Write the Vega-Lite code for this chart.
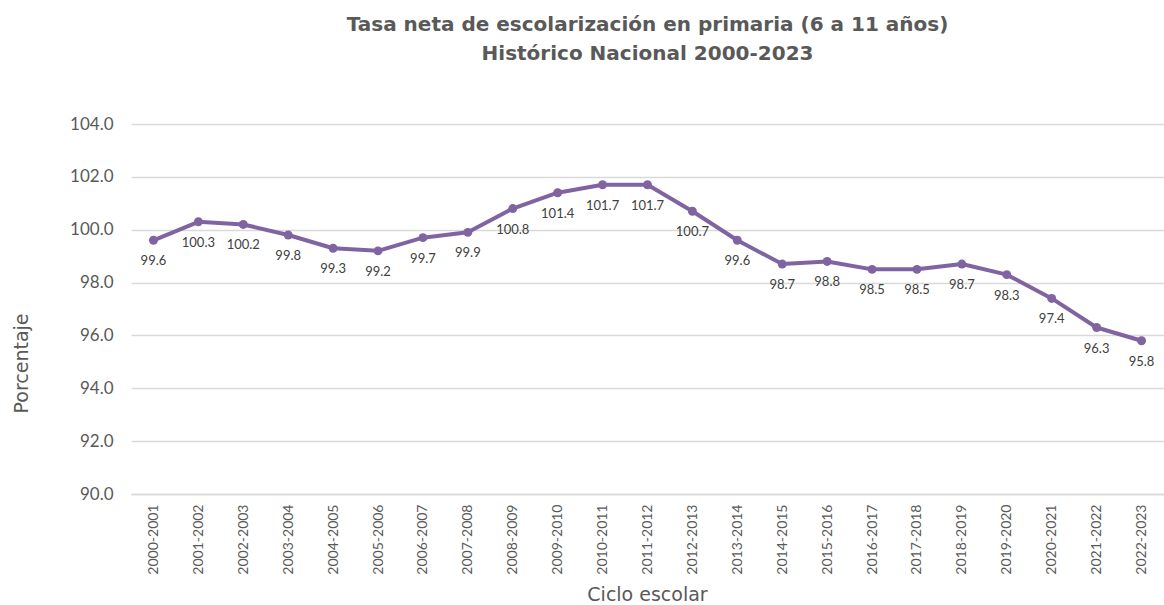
{
  "$schema": "https://vega.github.io/schema/vega-lite/v6.json",
  "autosize": {"type": "none"},
  "padding": {"left": 131, "top": 124, "right": 0, "bottom": 111},
  "width": 1033,
  "height": 370,
  "background": "white",
  "title": {
    "text": ["Tasa neta de escolarización en primaria (6 a 11 años)", "Histórico Nacional 2000-2023"],
    "font": "DejaVu Sans",
    "fontSize": 20,
    "fontWeight": "bold",
    "color": "#595959",
    "anchor": "middle",
    "lineHeight": 29,
    "offset": 51
  },
  "config": {
    "view": {"stroke": null},
    "font": "Lato"
  },
  "data": {
    "values": [
      {"ciclo": "2000-2001", "valor": 99.6},
      {"ciclo": "2001-2002", "valor": 100.3},
      {"ciclo": "2002-2003", "valor": 100.2},
      {"ciclo": "2003-2004", "valor": 99.8},
      {"ciclo": "2004-2005", "valor": 99.3},
      {"ciclo": "2005-2006", "valor": 99.2},
      {"ciclo": "2006-2007", "valor": 99.7},
      {"ciclo": "2007-2008", "valor": 99.9},
      {"ciclo": "2008-2009", "valor": 100.8},
      {"ciclo": "2009-2010", "valor": 101.4},
      {"ciclo": "2010-2011", "valor": 101.7},
      {"ciclo": "2011-2012", "valor": 101.7},
      {"ciclo": "2012-2013", "valor": 100.7},
      {"ciclo": "2013-2014", "valor": 99.6},
      {"ciclo": "2014-2015", "valor": 98.7},
      {"ciclo": "2015-2016", "valor": 98.8},
      {"ciclo": "2016-2017", "valor": 98.5},
      {"ciclo": "2017-2018", "valor": 98.5},
      {"ciclo": "2018-2019", "valor": 98.7},
      {"ciclo": "2019-2020", "valor": 98.3},
      {"ciclo": "2020-2021", "valor": 97.4},
      {"ciclo": "2021-2022", "valor": 96.3},
      {"ciclo": "2022-2023", "valor": 95.8}
    ]
  },
  "encoding": {
    "x": {
      "field": "ciclo",
      "type": "ordinal",
      "sort": null,
      "scale": {"paddingInner": 0, "paddingOuter": 0.5},
      "axis": {
        "title": "Ciclo escolar",
        "titleFont": "DejaVu Sans",
        "titleFontSize": 19,
        "titleFontWeight": "normal",
        "titleColor": "#595959",
        "titleX": 516,
        "titleY": 100,
        "titleBaseline": "middle",
        "titleAlign": "center",
        "labelAngle": -90,
        "labelAlign": "right",
        "labelBaseline": "middle",
        "labelFontSize": 14,
        "labelColor": "#595959",
        "labelPadding": 10,
        "ticks": false,
        "domainColor": "#d9d9d9",
        "domainWidth": 1.5,
        "grid": false
      }
    },
    "y": {
      "field": "valor",
      "type": "quantitative",
      "scale": {"domain": [90, 104], "nice": false, "zero": false},
      "axis": {
        "title": "Porcentaje",
        "titleFont": "DejaVu Sans",
        "titleFontSize": 19,
        "titleFontWeight": "normal",
        "titleColor": "#595959",
        "titleAngle": -90,
        "titleX": -110,
        "titleY": 239,
        "titleAlign": "center",
        "titleBaseline": "middle",
        "values": [90, 92, 94, 96, 98, 100, 102, 104],
        "format": ".1f",
        "labelFontSize": 17,
        "labelColor": "#595959",
        "labelPadding": 18,
        "ticks": false,
        "domain": false,
        "grid": true,
        "gridColor": "#d9d9d9",
        "gridWidth": 1.5
      }
    }
  },
  "layer": [
    {
      "mark": {"type": "line", "color": "#8064A2", "strokeWidth": 4, "strokeJoin": "round"}
    },
    {
      "mark": {"type": "point", "filled": true, "color": "#8064A2", "size": 80, "opacity": 1}
    },
    {
      "mark": {"type": "text", "dy": 21, "fontSize": 13, "color": "#404040", "baseline": "middle"},
      "encoding": {
        "text": {"field": "valor", "type": "quantitative", "format": ".1f"}
      }
    }
  ]
}
